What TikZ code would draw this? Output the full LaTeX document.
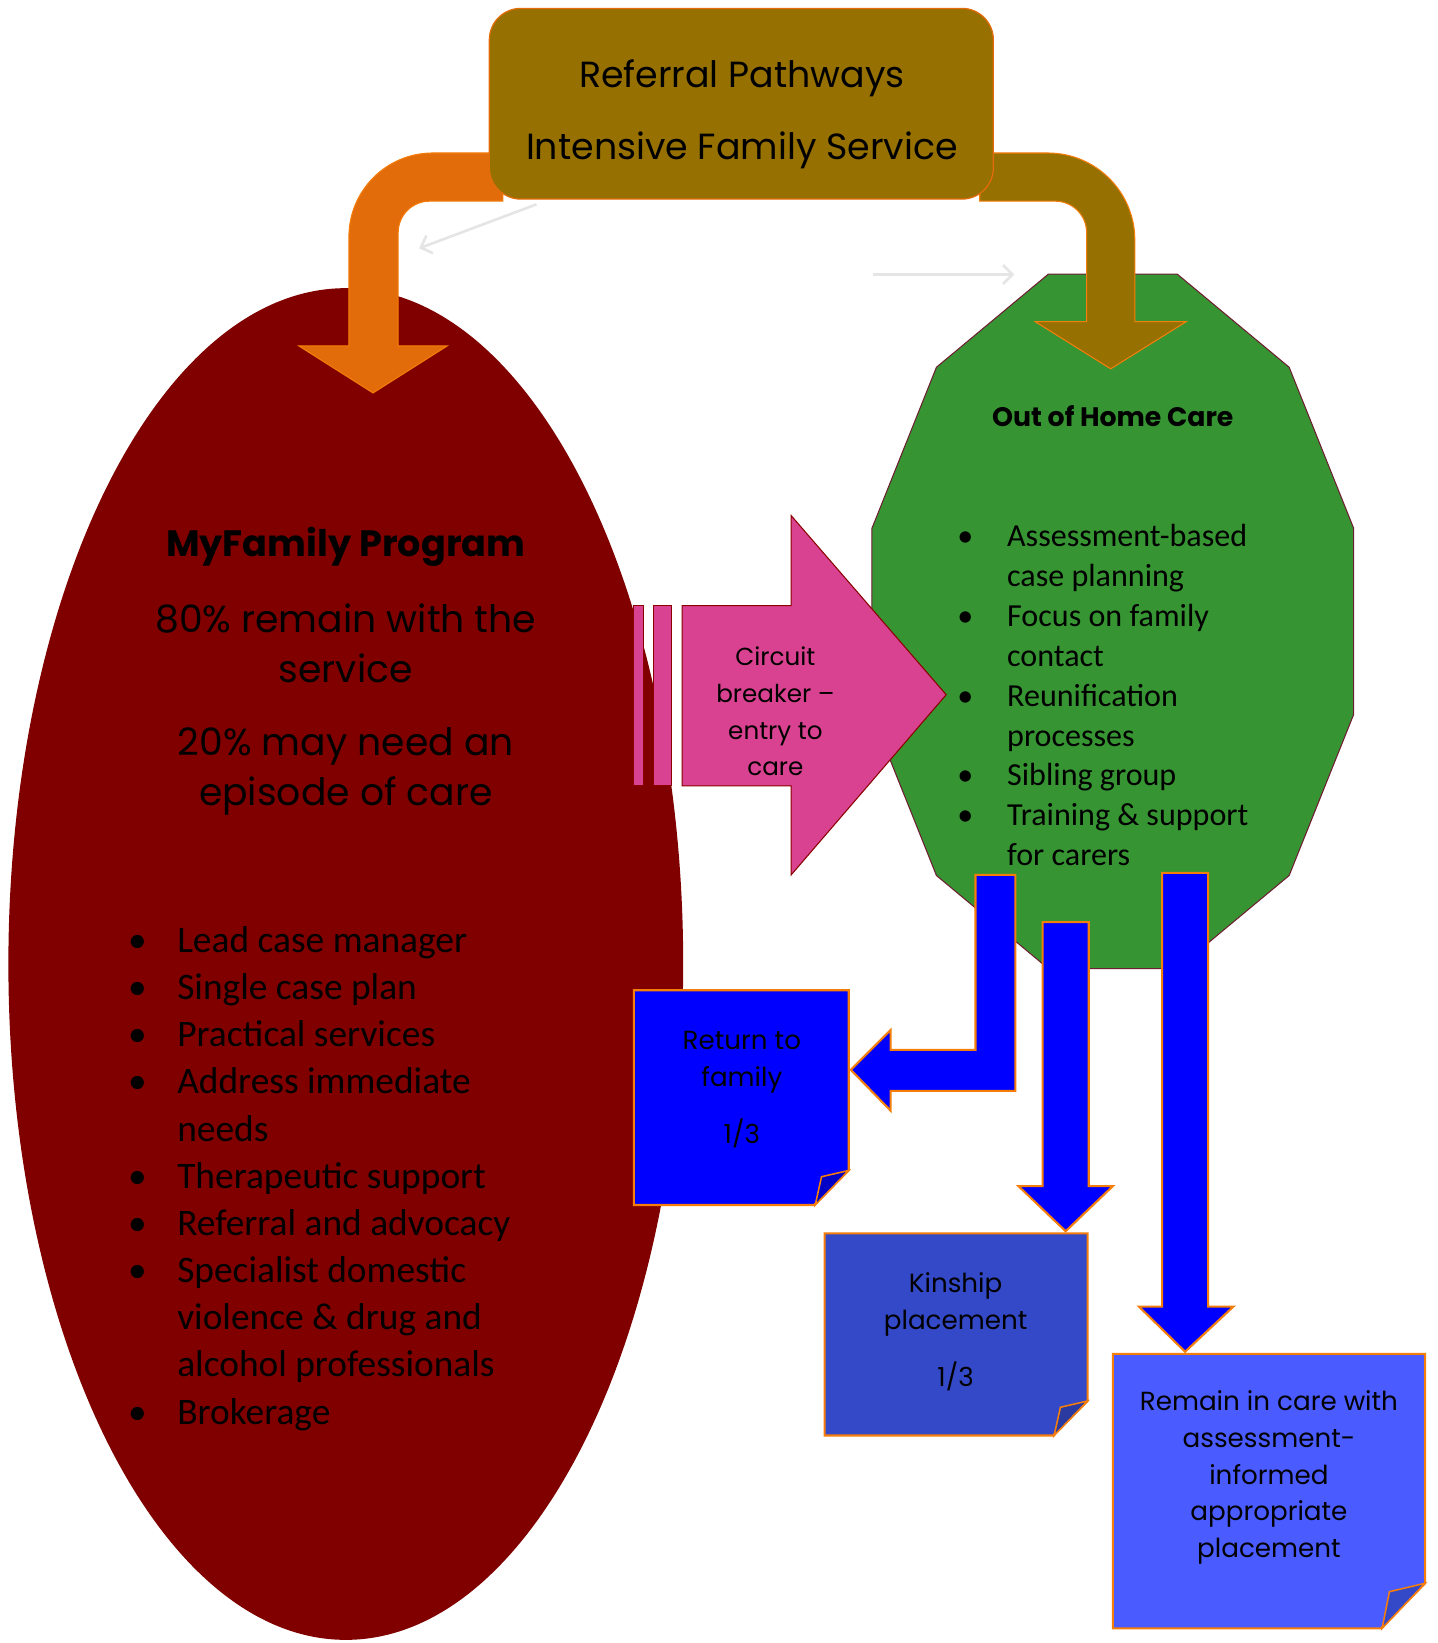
\documentclass[tikz,border=0pt]{standalone}
\usepackage{fontspec}
\setmainfont{Poppins}
\newfontfamily\calfont{Carlito}
\usetikzlibrary{arrows.meta,shapes.geometric}

\definecolor{refbrown}{RGB}{150,112,0}
\definecolor{reforange}{RGB}{227,108,10}
\definecolor{edgeorange}{RGB}{245,125,10}
\definecolor{famred}{RGB}{128,0,0}
\definecolor{ohcgreen}{RGB}{54,149,50}
\definecolor{ohcedge}{RGB}{110,30,50}
\definecolor{cbpink}{RGB}{217,66,144}
\definecolor{cbedge}{RGB}{139,0,0}
\definecolor{flowblue}{RGB}{0,0,255}
\definecolor{kinblue}{RGB}{52,73,200}
\definecolor{remblue}{RGB}{74,92,255}

\newcommand{\bul}{\makebox[14pt]{\textbullet}}

\tikzset{
  refbox/.style={rounded corners=30pt, fill=refbrown, draw=reforange, line width=1.2pt},
  bendarrow/.style={draw=edgeorange, line width=1pt},
  cbshape/.style={fill=cbpink, draw=cbedge, line width=1pt},
  flowarrow/.style={fill=flowblue, draw=edgeorange, line width=2pt},
  note/.style={draw=edgeorange, line width=2pt},
  fold/.style={draw=edgeorange, line width=1.5pt},
  hint/.style={draw=black!10, line width=2.5pt, -{Straight Barb[length=9pt,width=18pt]}},
  notetext/.style={align=center, font=\fontsize{25}{35}\selectfont},
}

\begin{document}
\begin{tikzpicture}[x=1pt,y=-1pt]
  \useasboundingbox (0,0) rectangle (1372,1568);

  % MyFamily ellipse
  \node[ellipse, fill=famred, minimum width=644pt, minimum height=1290pt, inner sep=0] (myfamily) at (330,920) {};
  \node[font=\bfseries\fontsize{35}{40}\selectfont] (mftitle) at (330,522) {MyFamily Program};
  \node[align=center, font=\fontsize{36}{48}\selectfont] (mfstay) at (330,614) {80\% remain with the\\service};
  \node[align=center, font=\fontsize{36}{48}\selectfont] (mfcare) at (330,736) {20\% may need an\\episode of care};
  \node[anchor=base west, inner sep=0, font=\calfont\fontsize{35.7}{45}\selectfont] (mflist) at (124,909) {%
    \begin{tabular}[t]{@{}l@{\hspace{31pt}}l@{}}
      \bul & Lead case manager\\
      \bul & Single case plan\\
      \bul & Practical services\\
      \bul & Address immediate\\
           & needs\\
      \bul & Therapeutic support\\
      \bul & Referral and advocacy\\
      \bul & Specialist domestic\\
           & violence \& drug and\\
           & alcohol professionals\\
      \bul & Brokerage
    \end{tabular}};

  % Out of Home Care polygon
  \begin{scope}[shift={(1062,593)}]
    \draw[fill=ohcgreen, draw=ohcedge, line width=1pt]
      (15:238 and 343) \foreach \a in {45,75,...,345} { -- (\a:238 and 343) } -- cycle;
  \end{scope}
  \node[font=\bfseries\fontsize{25.5}{28}\selectfont] (ohc) at (1062,397) {Out of Home Care};
  \node[anchor=base west, inner sep=0, font=\calfont\fontsize{30.6}{38}\selectfont] (ohclist) at (914,522) {%
    \begin{tabular}[t]{@{}l@{\hspace{33pt}}l@{}}
      \bul & Assessment-based\\
           & case planning\\
      \bul & Focus on family\\
           & contact\\
      \bul & Reunification\\
           & processes\\
      \bul & Sibling group\\
      \bul & Training \& support\\
           & for carers
    \end{tabular}};

  % bent arrows out of the referral box
  \draw[bendarrow, fill=reforange] (480,146) -- (413,146) .. controls (368.8,146) and (333,181.8) .. (333,226)
    -- (333,330) -- (285,330) -- (356,375) -- (427,330) -- (380,330) -- (380,222)
    .. controls (380,205.4) and (393.4,192) .. (410,192) -- (480,192) -- cycle;
  \draw[bendarrow, fill=refbrown] (935,146) -- (1000,146) .. controls (1045.8,146) and (1083,183.2) .. (1083,229)
    -- (1083,307) -- (1132,307) -- (1060,352) -- (988,307) -- (1037,307) -- (1037,222)
    .. controls (1037,205.4) and (1023.6,192) .. (1007,192) -- (935,192) -- cycle;

  % referral box
  \node[refbox, minimum width=481pt, minimum height=182pt] (refbox) at (707.5,99) {};
  \node[align=center, font=\fontsize{34.7}{68}\selectfont] (reftext) at (708,109) {Referral Pathways\\Intensive Family Service};

  % faint hint arrows
  \coordinate (h1s) at (512,195);
  \coordinate (h1e) at (400,237);
  \coordinate (h2s) at (833,262);
  \coordinate (h2e) at (968,262);
  \draw[hint] (h1s) -- (h1e);
  \draw[hint] (h2s) -- (h2e);

  % circuit breaker arrow
  \draw[cbshape] (605,578) rectangle (614,750);
  \draw[cbshape] (624,578) rectangle (641,750);
  \draw[cbshape] (651,578) -- (755,578) -- (755,492) -- (903,663) -- (755,835) -- (755,750) -- (651,750) -- cycle;
  \node[align=center, font=\fontsize{23.5}{35}\selectfont] (cb) at (740,679) {Circuit\\breaker --\\entry to\\care};

  % outcome arrows
  \draw[flowarrow] (931,835) -- (969,835) -- (969,1041) -- (850,1041) -- (850,1060) -- (812,1021)
    -- (850,983) -- (850,1002) -- (931,1002) -- cycle;
  \draw[flowarrow] (995,880) -- (1039,880) -- (1039,1132) -- (1062,1132) -- (1017,1175) -- (972,1132) -- (995,1132) -- cycle;
  \draw[flowarrow] (1109,833) -- (1153,833) -- (1153,1247) -- (1177,1247) -- (1131,1290) -- (1087,1247) -- (1109,1247) -- cycle;

  % outcome notes
  \draw[note, fill=flowblue] (605,945) -- (810,945) -- (810,1117) -- (777,1150) -- (605,1150) -- cycle;
  \draw[fold, fill=flowblue!78!black] (810,1117) -- (784,1123) -- (778,1150) -- cycle;
  \node[notetext] (ret) at (708,1040) {Return to\\family\\[20pt]1/3};

  \draw[note, fill=kinblue] (787,1177) -- (1038,1177) -- (1038,1337) -- (1005,1370) -- (787,1370) -- cycle;
  \draw[fold, fill=kinblue!80!black] (1038,1337) -- (1012,1343) -- (1006,1370) -- cycle;
  \node[notetext] (kin) at (912,1271) {Kinship\\placement\\[20pt]1/3};

  \draw[note, fill=remblue] (1062,1292) -- (1360,1292) -- (1360,1511) -- (1318,1554) -- (1062,1554) -- cycle;
  \draw[fold, fill=kinblue] (1360,1511) -- (1326,1519) -- (1319,1554) -- cycle;
  \node[notetext] (rem) at (1211,1410) {Remain in care with\\assessment-\\informed\\appropriate\\placement};
\end{tikzpicture}
\end{document}
